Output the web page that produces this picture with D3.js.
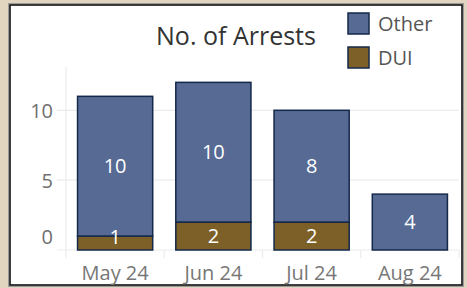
<!DOCTYPE html>
<html><head><meta charset="utf-8">
<script src="https://cdn.jsdelivr.net/npm/d3@7"></script>
<style>
html,body{margin:0;padding:0;background:#e2d5c0;}
svg{display:block;}
text{font-family:"Open Sans",sans-serif;}
</style></head>
<body><svg id="c" width="467" height="288"></svg>
<script>
const months = ["May 24","Jun 24","Jul 24","Aug 24"];
const dui = [1,2,2,0];
const other = [10,10,8,4];
const seriesNames = ["Other","DUI"];
const colors = {Other:"#566a94", DUI:"#7d5f28"};
const yTicks = [0,5,10];
const title = "No. of Arrests";

const svg = d3.select("#c");
svg.append("rect").attr("x",8.5).attr("y",3.5).attr("width",455).attr("height",283).attr("fill","none").attr("stroke","#9a9a9a").attr("stroke-width",1);
svg.append("rect").attr("x",10).attr("y",5).attr("width",452).attr("height",280).attr("fill","#fff").attr("stroke","#111").attr("stroke-width",1.6);

const x = d3.scaleBand().domain(months).range([66,459]).paddingInner(0.235).paddingOuter(0.1175);
const y = d3.scaleLinear().domain([0,13.1]).range([250,67]);

// gridlines
const g = svg.append("g");
yTicks.forEach(t=>{
  g.append("line").attr("x1",57).attr("x2",459).attr("y1",y(t)).attr("y2",y(t)).attr("stroke","#ececec").attr("stroke-width",1.2);
});
// column dividers
const step = x.step();
const edges = d3.range(months.length+1).map(i=>66+i*step);
edges.forEach(e=>{
  g.append("line").attr("x1",e).attr("x2",e).attr("y1",e===66?67:250).attr("y2",258).attr("stroke","#ececec").attr("stroke-width",1.2);
});

// y tick labels
const yl = svg.append("g");
yTicks.forEach(t=>{
  let yy = y(t)+8;
  if(t===0) yy = y(t)-6;
  yl.append("text").attr("x",53).attr("y",yy).attr("text-anchor","end").attr("font-size",20).attr("fill","#707070").text(t);
});

// stacked data
const data = months.map((m,i)=>({month:m, DUI:dui[i], Other:other[i]}));
const stack = d3.stack().keys(["DUI","Other"])(data);
const barsG = svg.append("g");
const labelsG = svg.append("g");
stack.forEach(layer=>{
  barsG.append("g").selectAll("rect").data(layer).join("rect")
    .filter(d=>d[1]-d[0]>0)
    .attr("x",d=>x(d.data.month)).attr("width",x.bandwidth())
    .attr("y",d=>y(d[1])).attr("height",d=>y(d[0])-y(d[1]))
    .attr("fill",colors[layer.key]).attr("stroke","#14284a").attr("stroke-width",1.5);
  labelsG.append("g").selectAll("text").data(layer).join("text")
    .filter(d=>d[1]-d[0]>0)
    .attr("x",d=>x(d.data.month)+x.bandwidth()/2)
    .attr("y",d=>Math.min((y(d[0])+y(d[1]))/2, y(d[0])-13.5)+7)
    .attr("text-anchor","middle").attr("font-size",20).attr("fill","#fff")
    .text(d=>d[1]-d[0]);
});

// x labels
months.forEach(m=>{
  svg.append("text").attr("x",x(m)+x.bandwidth()/2).attr("y",280).attr("text-anchor","middle").attr("font-size",20).attr("fill","#777").text(m);
});

// title
svg.append("text").attr("x",236).attr("y",45).attr("text-anchor","middle").attr("font-size",25).attr("fill","#333").text(title);

// legend
seriesNames.forEach((s,i)=>{
  const ly = 13+i*34;
  svg.append("rect").attr("x",348).attr("y",ly).attr("width",21).attr("height",21).attr("fill",colors[s]).attr("stroke","#14284a").attr("stroke-width",1.5);
  svg.append("text").attr("x",378).attr("y",ly+18).attr("font-size",20).attr("fill","#555").text(s);
});
</script></body></html>
